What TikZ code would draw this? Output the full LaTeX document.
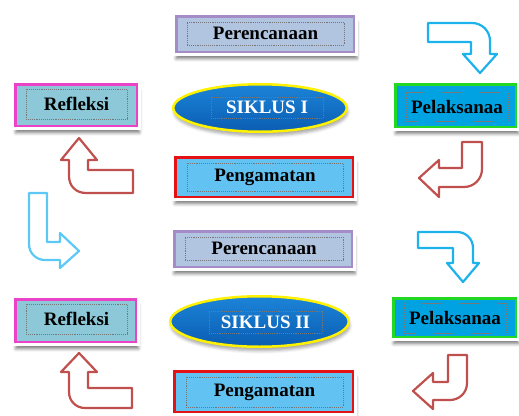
\documentclass[tikz,border=0pt]{standalone}
\usepackage{fontspec}
\setmainfont{Liberation Serif}
\usepackage{xcolor}
\usepackage{tikz}
\usetikzlibrary{shapes.geometric,shadows.blur}

\definecolor{planfill}{HTML}{B2C5E0}
\definecolor{planline}{HTML}{A68CC6}
\definecolor{reffill}{HTML}{8CC8D7}
\definecolor{refline}{HTML}{EC42C8}
\definecolor{obsfill}{HTML}{62C3F2}
\definecolor{obsline}{HTML}{E41212}
\definecolor{actfill}{HTML}{00A2E2}
\definecolor{actline}{HTML}{22D822}
\definecolor{cyctop}{HTML}{1C84D8}
\definecolor{cycbot}{HTML}{0A5DB2}
\definecolor{cycline}{HTML}{FFF200}
\definecolor{bendred}{HTML}{C0504D}
\definecolor{bendblue}{HTML}{1EB2EC}
\definecolor{bendsky}{HTML}{5CC8F6}
\definecolor{dotline}{HTML}{777777}

\begin{document}
\begin{tikzpicture}[x=1pt, y=-1pt,
    box/.style={rectangle, line width=2.5pt, inner sep=0pt,
        blur shadow={shadow xshift=1.5pt, shadow yshift=-6.5pt, shadow scale=1.02,
            shadow blur radius=3pt, shadow opacity=50},
        preaction={draw=white, line width=9pt}},
    plan/.style={box, draw=planline, fill=planfill},
    reflect/.style={box, draw=refline, fill=reffill},
    observe/.style={box, draw=obsline, fill=obsfill},
    act/.style={box, draw=actline, fill=actfill},
    siklus/.style={ellipse, draw=cycline, line width=2.5pt, inner sep=0pt,
        top color=cyctop, bottom color=cycbot,
        blur shadow={shadow xshift=1pt, shadow yshift=-4pt, shadow blur radius=3pt, shadow opacity=35}},
    boxtext/.style={rectangle, draw=dotline, densely dotted, line width=.9pt, inner sep=0pt,
        font=\bfseries\fontsize{19}{21}\selectfont},
    redbend/.style={draw=bendred, line width=2.2pt, line join=round},
    bluebend/.style={draw=bendblue, line width=2.2pt, line join=round},
    skybend/.style={draw=bendsky, line width=2.2pt, line join=round}
]
    \useasboundingbox (0,0) rectangle (519,415);

    % siklus I
    \node[plan, minimum width=177.5, minimum height=35.5] (plan1) at (265,34) {};
    \node[boxtext, minimum width=157, minimum height=23] (plan1text) at (265.5,33.5) {Perencanaan};

    \node[reflect, minimum width=121.5, minimum height=41.5] (ref1) at (76,105) {};
    \node[boxtext, minimum width=101, minimum height=30] (ref1text) at (76.5,104) {Refleksi};

    \node[siklus, minimum width=173.5, minimum height=47.5] (cyc1) at (260,108) {};
    \node[boxtext, text=white, minimum width=112, minimum height=21] (cyc1text) at (267,107.5) {SIKLUS I};

    \node[act, minimum width=120.5, minimum height=42.5] (act1) at (455.5,105.5) {};
    \node[boxtext, minimum width=102, minimum height=29] (act1text) at (457,106.5) {Pelaksanaa};

    \node[observe, minimum width=177.5, minimum height=39.5] (obs1) at (264,177) {};
    \node[boxtext, minimum width=156, minimum height=28] (obs1text) at (265,177) {Pengamatan};

    % siklus II
    \node[plan, minimum width=177.5, minimum height=35.5] (plan2) at (263,249) {};
    \node[boxtext, minimum width=158, minimum height=23] (plan2text) at (264,248.5) {Perencanaan};

    \node[reflect, minimum width=120.5, minimum height=42.5] (ref2) at (75.5,320.5) {};
    \node[boxtext, minimum width=101, minimum height=30] (ref2text) at (76.5,319) {Refleksi};

    \node[siklus, minimum width=178.5, minimum height=50.5] (cyc2) at (259.5,321.5) {};
    \node[boxtext, text=white, minimum width=113, minimum height=22] (cyc2text) at (265.5,322) {SIKLUS II};

    \node[act, minimum width=122.5, minimum height=38.5] (act2) at (454.5,317.5) {};
    \node[boxtext, minimum width=102, minimum height=30] (act2text) at (455,318) {Pelaksanaa};

    \node[observe, minimum width=178.5, minimum height=40.5] (obs2) at (263.5,391.5) {};
    \node[boxtext, minimum width=157, minimum height=30] (obs2text) at (264.5,392) {Pengamatan};

    % bent arrows
    \draw[bluebend] (428,23) -- (472,23) .. controls (482,23) and (490,31) .. (490,41)
        -- (490,54) -- (497,54) -- (480,73) -- (463,54) -- (471,54) -- (471,42) -- (428,42) -- cycle;
    \draw[redbend] (462,142) -- (482,142) -- (482,169) .. controls (482,179) and (474,187) .. (464,187)
        -- (439,187) -- (439,197) -- (419,178) -- (439,160) -- (439,168) -- (462,168) -- cycle;
    \draw[redbend] (79,138) -- (97,160) -- (88,160) -- (88,170) -- (133,170) -- (133,193)
        -- (86,193) .. controls (76,193) and (69,186) .. (69,176) -- (69,160) -- (61,160) -- cycle;
    \draw[skybend] (29,193) -- (47,193) -- (47,242) -- (60,242) -- (60,233) -- (79,251)
        -- (60,268) -- (60,260) -- (45,260) .. controls (36,260) and (29,253) .. (29,244) -- cycle;
    \draw[bluebend] (418,232) -- (457,232) .. controls (466,232) and (473,239) .. (473,248)
        -- (473,263) -- (479,263) -- (463,282) -- (447,263) -- (453,263) -- (453,248) -- (418,248) -- cycle;
    \draw[redbend] (448,355) -- (467,355) -- (467,383) .. controls (467,393) and (459,400) .. (450,400)
        -- (433,400) -- (433,409) -- (413,391) -- (433,373) -- (433,382) -- (448,382) -- cycle;
    \draw[redbend] (79,353) -- (97,372) -- (88,372) -- (88,388) -- (132,388) -- (132,408)
        -- (85,408) .. controls (76,408) and (69,401) .. (69,392) -- (69,372) -- (61,372) -- cycle;
\end{tikzpicture}
\end{document}
